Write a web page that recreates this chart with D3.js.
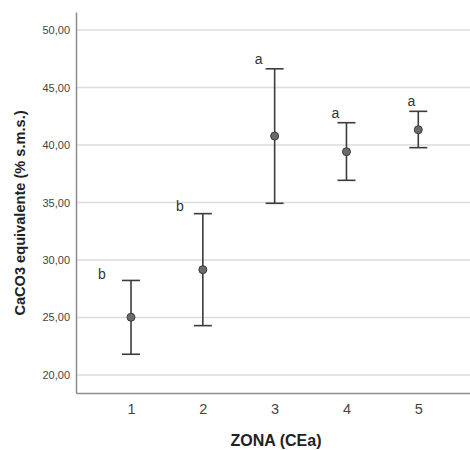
<!DOCTYPE html>
<html>
<head>
<meta charset="utf-8">
<script src="https://cdn.jsdelivr.net/npm/d3@7"></script>
<style>
  body { margin: 0; background: #fff; }
  text { font-family: "Liberation Sans", Arial, sans-serif; }
</style>
</head>
<body>
<div class="chart"></div>
<script>
var width = 470;
var height = 450;

// data
var zones = [1, 2, 3, 4, 5];
var means = [25.02, 29.16, 40.78, 39.42, 41.33];
var upper = [28.22, 34.03, 46.63, 41.94, 42.93];
var lower = [21.80, 24.29, 34.93, 36.93, 39.77];
var letters = ["b", "b", "a", "a", "a"];
var yTicks = [20, 25, 30, 35, 40, 45, 50];

// letter offsets (layout only)
var letterDx = [-29, -23, -16, -11, -7];
var letterDy = [-5, -6, -8, -8, -9];

var margin = {left: 76, right: 0, top: 12, bottom: 57};

var svg = d3.select(".chart").append("svg")
    .attr("width", width)
    .attr("height", height);

var x = d3.scaleLinear()
    .domain([0.234, 5.72])
    .range([margin.left, width - margin.right]);

var y = d3.scaleLinear()
    .domain([18.43, 51.57])
    .range([height - margin.bottom, margin.top]);

var fmt = function(d) { return d3.format(".2f")(d).replace(".", ","); };

//gridlines
svg.append("g")
    .attr("class", "grid")
  .selectAll("line")
  .data(yTicks)
  .enter().append("line")
    .attr("x1", margin.left)
    .attr("x2", width - margin.right)
    .attr("y1", function(d) { return y(d); })
    .attr("y2", function(d) { return y(d); })
    .attr("stroke", "#dcdcdc")
    .attr("stroke-width", 1.5);

//y axis
var yAxis = svg.append("g")
    .attr("transform", "translate(" + margin.left + ",0)")
    .call(d3.axisLeft(y).tickValues(yTicks).tickFormat(fmt).tickSize(0).tickPadding(6));
yAxis.select(".domain").attr("stroke", "#8c8c8c").attr("stroke-width", 1.5);
yAxis.selectAll("text").attr("font-size", 11).attr("fill", "#444")
    .style("font-family", "'Liberation Sans', Arial, sans-serif");

//x axis
var xAxis = svg.append("g")
    .attr("transform", "translate(0," + (height - margin.bottom) + ")")
    .call(d3.axisBottom(x).tickValues(zones).tickFormat(d3.format("d")).tickSize(0).tickPadding(11));
xAxis.select(".domain").attr("stroke", "#8c8c8c").attr("stroke-width", 1.5);
xAxis.selectAll("text").attr("font-size", 14.5).attr("fill", "#444")
    .style("font-family", "'Liberation Sans', Arial, sans-serif");

//axis titles
svg.append("text")
    .attr("transform", "translate(21," + 213 + ") rotate(-90)")
    .attr("text-anchor", "middle")
    .attr("dominant-baseline", "middle")
    .attr("font-size", 14.6)
    .attr("font-weight", "bold")
    .attr("fill", "#222")
    .text("CaCO3 equivalente (% s.m.s.)");

svg.append("text")
    .attr("x", 276)
    .attr("y", 442)
    .attr("text-anchor", "middle")
    .attr("dominant-baseline", "middle")
    .attr("font-size", 16)
    .attr("font-weight", "bold")
    .attr("fill", "#222")
    .text("ZONA (CEa)");

//error bars
var bars = svg.append("g")
    .attr("class", "bars")
  .selectAll("g")
  .data(zones)
  .enter().append("g");

bars.append("line")
    .attr("x1", function(d) { return x(d); })
    .attr("x2", function(d) { return x(d); })
    .attr("y1", function(d, i) { return y(upper[i]); })
    .attr("y2", function(d, i) { return y(lower[i]); })
    .attr("stroke", "#3c3c3c")
    .attr("stroke-width", 1.6);

bars.append("line")
    .attr("x1", function(d) { return x(d) - 9; })
    .attr("x2", function(d) { return x(d) + 9; })
    .attr("y1", function(d, i) { return y(upper[i]); })
    .attr("y2", function(d, i) { return y(upper[i]); })
    .attr("stroke", "#3c3c3c")
    .attr("stroke-width", 1.6);

bars.append("line")
    .attr("x1", function(d) { return x(d) - 9; })
    .attr("x2", function(d) { return x(d) + 9; })
    .attr("y1", function(d, i) { return y(lower[i]); })
    .attr("y2", function(d, i) { return y(lower[i]); })
    .attr("stroke", "#3c3c3c")
    .attr("stroke-width", 1.6);

bars.append("circle")
    .attr("cx", function(d) { return x(d); })
    .attr("cy", function(d, i) { return y(means[i]); })
    .attr("r", 4)
    .attr("fill", "#6b6b6b")
    .attr("stroke", "#3c3c3c")
    .attr("stroke-width", 1);

bars.append("text")
    .attr("x", function(d, i) { return x(d) + letterDx[i]; })
    .attr("y", function(d, i) { return y(upper[i]) + letterDy[i]; })
    .attr("text-anchor", "middle")
    .attr("dominant-baseline", "middle")
    .attr("font-size", 14)
    .attr("fill", "#333")
    .text(function(d, i) { return letters[i]; });
</script>
</body>
</html>
